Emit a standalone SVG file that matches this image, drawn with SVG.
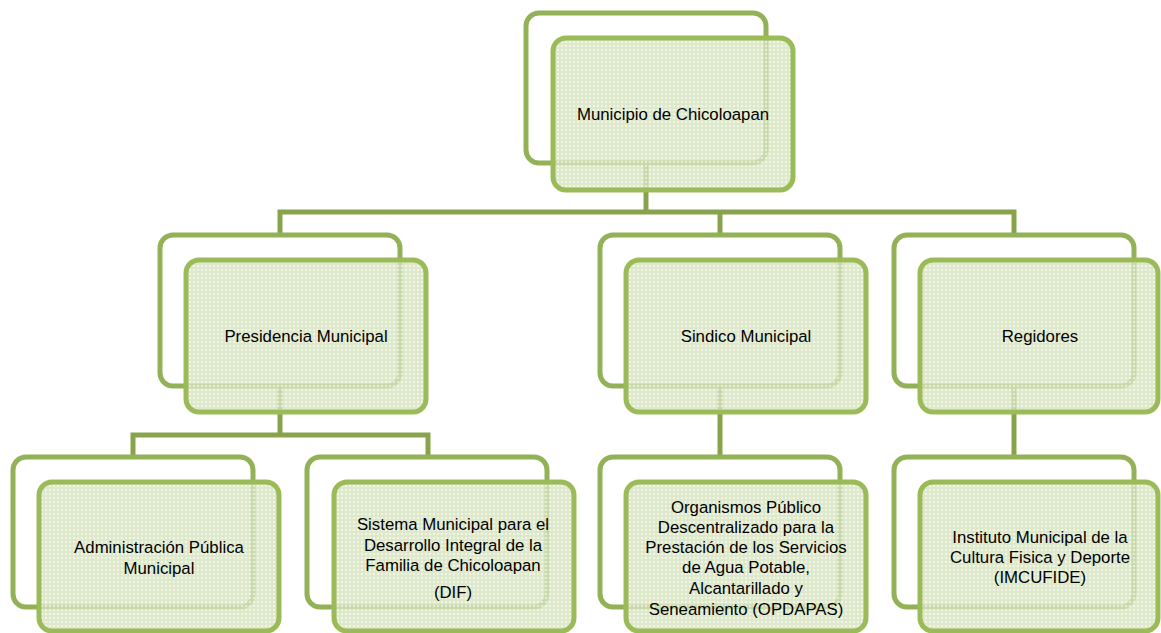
<svg xmlns="http://www.w3.org/2000/svg" width="1161" height="633" viewBox="0 0 1161 633">
<defs>
<pattern id="dots" width="4" height="4" patternUnits="userSpaceOnUse">
<rect width="4" height="4" fill="#d6e3bf" fill-opacity="0.8"/>
<circle cx="2" cy="2" r="0.9" fill="#ffffff" fill-opacity="0.8"/>
</pattern>
<style>
.back{fill:none;stroke:#93b257;stroke-width:5}
.front{fill:url(#dots);stroke:#9bbb59;stroke-width:5}
.conn{fill:none;stroke:#87a34b;stroke-width:5}
text{font-family:"Liberation Sans",Arial,sans-serif;font-size:16.8px;fill:#000;text-anchor:middle}
</style>
</defs>
<rect width="1161" height="633" fill="#fff"/>
<g id="connectors">
<path class="conn" d="M646,163 V212"/>
<path class="conn" d="M280,235 V212 H1014 V235"/>
<path class="conn" d="M720,212 V235"/>
<path class="conn" d="M280,386 V435"/>
<path class="conn" d="M133,457 V435 H428 V457"/>
<path class="conn" d="M720,386 V457"/>
<path class="conn" d="M1014,386 V457"/>
</g>
<g id="municipio">
<rect class="back" x="526" y="13" width="240" height="150" rx="13"/>
<rect class="front" x="553" y="38" width="240" height="152" rx="13"/>
<text x="673" y="120">Municipio de Chicoloapan</text>
</g>
<g id="presidencia">
<rect class="back" x="160" y="235" width="240" height="151" rx="13"/>
<rect class="front" x="186" y="260" width="240" height="152" rx="13"/>
<text x="306" y="342">Presidencia Municipal</text>
</g>
<g id="sindico">
<rect class="back" x="600" y="235" width="240" height="151" rx="13"/>
<rect class="front" x="626" y="260" width="240" height="152" rx="13"/>
<text x="746" y="342">Sindico Municipal</text>
</g>
<g id="regidores">
<rect class="back" x="894" y="235" width="240" height="151" rx="13"/>
<rect class="front" x="920" y="260" width="238" height="152" rx="13"/>
<text x="1040" y="342">Regidores</text>
</g>
<g id="administracion">
<rect class="back" x="13" y="457" width="240" height="150" rx="13"/>
<rect class="front" x="39" y="482" width="240" height="149" rx="13"/>
<text x="159" y="553">Administración Pública</text>
<text x="159" y="574">Municipal</text>
</g>
<g id="dif">
<rect class="back" x="307" y="457" width="240" height="150" rx="13"/>
<rect class="front" x="334" y="482" width="240" height="149" rx="13"/>
<text x="453" y="530">Sistema Municipal para el</text>
<text x="453" y="551">Desarrollo Integral de la</text>
<text x="453" y="571">Familia de Chicoloapan</text>
<text x="453" y="598">(DIF)</text>
</g>
<g id="opdapas">
<rect class="back" x="600" y="457" width="240" height="150" rx="13"/>
<rect class="front" x="626" y="482" width="240" height="149" rx="13"/>
<text x="746" y="513">Organismos Público</text>
<text x="746" y="533">Descentralizado para la</text>
<text x="746" y="553">Prestación de los Servicios</text>
<text x="746" y="573">de Agua Potable,</text>
<text x="746" y="594">Alcantarillado y</text>
<text x="746" y="615">Seneamiento (OPDAPAS)</text>
</g>
<g id="imcufide">
<rect class="back" x="894" y="457" width="240" height="150" rx="13"/>
<rect class="front" x="920" y="482" width="238" height="149" rx="13"/>
<text x="1040" y="543">Instituto Municipal de la</text>
<text x="1040" y="563">Cultura Fisica y Deporte</text>
<text x="1040" y="583">(IMCUFIDE)</text>
</g>
</svg>
